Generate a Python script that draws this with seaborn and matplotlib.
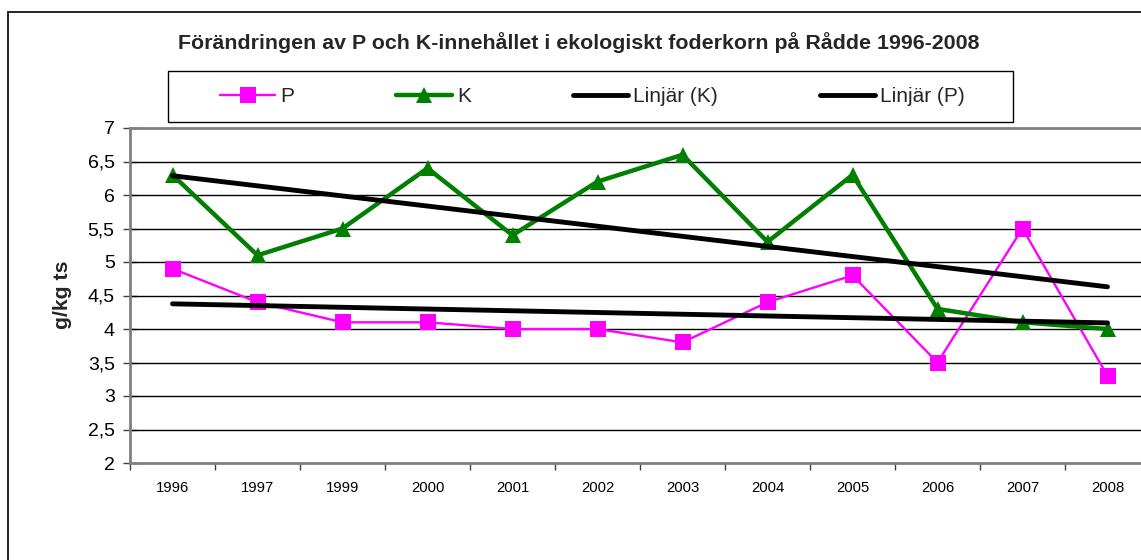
import numpy as np
import pandas as pd
import matplotlib
matplotlib.use("Agg")
import matplotlib.pyplot as plt
from matplotlib.lines import Line2D
from matplotlib.patches import Rectangle
from matplotlib.ticker import FixedLocator, FuncFormatter
import seaborn as sns

#Data
years = ["1996", "1997", "1999", "2000", "2001", "2002", "2003", "2004", "2005", "2006", "2007", "2008"]
p_values = [4.9, 4.4, 4.1, 4.1, 4.0, 4.0, 3.8, 4.4, 4.8, 3.5, 5.5, 3.3]
k_values = [6.3, 5.1, 5.5, 6.4, 5.4, 6.2, 6.6, 5.3, 6.3, 4.3, 4.1, 4.0]
y_ticks = [2, 2.5, 3, 3.5, 4, 4.5, 5, 5.5, 6, 6.5, 7]

sns.set_theme(style="white")
plt.rcParams["font.family"] = ["Liberation Sans", "DejaVu Sans"]

W, H = 1141, 560
pos = np.arange(len(years))
df = pd.DataFrame({"pos": pos, "year": years, "P": p_values, "K": k_values})

fig = plt.figure(figsize=(W / 100, H / 100), dpi=100)
ax = fig.add_axes([130 / W, 1 - 463 / H, 1020 / W, 335 / H])

#outer chart border (the reference is cropped on the right and bottom)
fig.patches.append(Rectangle((8 / W, -0.2), 1.5, 1.2 - 12 / H, transform=fig.transFigure,
                             fill=False, edgecolor="black", linewidth=1.2, zorder=0))
#legend border
fig.patches.append(Rectangle((168 / W, 1 - 122 / H), 845 / W, 51 / H, transform=fig.transFigure,
                             fill=False, edgecolor="black", linewidth=1.0, zorder=0))

#grid lines
for y in y_ticks[1:-1]:
    ax.axhline(y, color="black", linewidth=1.0, zorder=1)

sns.lineplot(data=df, x="pos", y="P", ax=ax, color="#FF00FF", linewidth=1.7,
             marker="s", markersize=11, markeredgewidth=0, zorder=3)
sns.lineplot(data=df, x="pos", y="K", ax=ax, color="#007F00", linewidth=3.2,
             marker="^", markersize=11.5, markeredgewidth=0, zorder=3)

#linear trend lines like Excel's "Linjär"
k_fit = np.polyfit(pos, k_values, 1)
p_fit = np.polyfit(pos, p_values, 1)
ends = np.array([pos[0], pos[-1]])
ax.plot(ends, np.polyval(k_fit, ends), color="black", linewidth=3.5, solid_capstyle="round", zorder=4)
ax.plot(ends, np.polyval(p_fit, ends), color="black", linewidth=3.5, solid_capstyle="round", zorder=4)

ax.set_xlim(-0.5, len(years) - 0.5)
ax.set_ylim(2, 7)
ax.set_yticks(y_ticks)
ax.yaxis.set_major_formatter(FuncFormatter(lambda v, _: f"{v:g}".replace(".", ",")))
ax.xaxis.set_major_locator(FixedLocator(np.arange(-0.5, len(years), 1.0)))
ax.xaxis.set_major_formatter(FuncFormatter(lambda v, _: ""))
ax.xaxis.set_minor_locator(FixedLocator(pos))
ax.set_xticklabels(years, minor=True)
ax.tick_params(axis="x", which="major", direction="out", length=5, width=1, color="#404040", bottom=True)
ax.tick_params(axis="x", which="minor", length=0, labelsize=10.7, pad=13, colors="black")
ax.tick_params(axis="y", direction="inout", length=10, width=1, color="#404040", left=True,
               labelsize=14, pad=6, labelcolor="black")

for side in ["top", "bottom", "left"]:
    ax.spines[side].set_color("#808080")
    ax.spines[side].set_linewidth(2)
ax.spines["right"].set_visible(False)
ax.set_xlabel("")
ax.set_ylabel("")

fig.text(62 / W, 1 - 295 / H, "g/kg ts", rotation=90, ha="center", va="center",
         fontsize=15.3, fontweight="bold")
fig.text(579 / W, 1 - 43 / H, "Förändringen av P och K-innehållet i ekologiskt foderkorn på Rådde 1996-2008",
         ha="center", va="center", fontsize=15.4, fontweight="bold")

handles = [
    Line2D([], [], color="#FF00FF", linewidth=1.7, marker="s", markersize=11, markeredgewidth=0),
    Line2D([], [], color="#007F00", linewidth=3.2, marker="^", markersize=11.5, markeredgewidth=0),
    Line2D([], [], color="black", linewidth=3.5),
    Line2D([], [], color="black", linewidth=3.5),
]
labels = ["P", "K", "Linjär (K)", "Linjär (P)"]
leg = fig.legend(handles, labels, ncol=4, loc="center left",
                 bbox_to_anchor=(220 / W, 1 - 112 / H, 745 / W, 30 / H),
                 mode="expand", fontsize=15, frameon=False,
                 handlelength=2.65, handletextpad=0.25, borderaxespad=0, borderpad=0)

fig.savefig("out.png", dpi=100)
